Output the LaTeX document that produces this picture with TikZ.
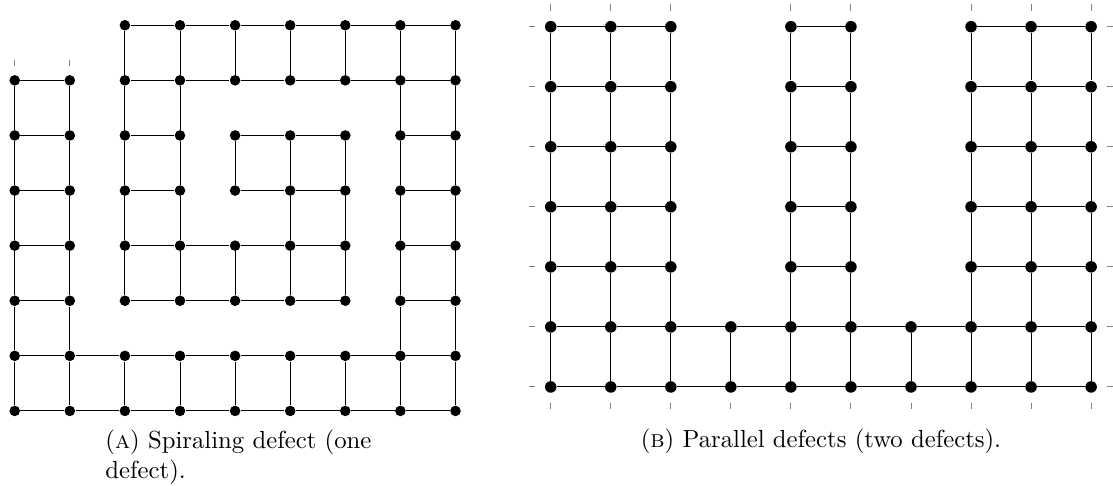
\documentclass[tikz,border=0pt]{standalone}
\usepackage{amsmath}
\usepackage{amssymb}

\tikzset{
  site/.style={circle, fill=black, inner sep=0pt, minimum size=4.4pt},
  stub/.style={gray, line width=0.4pt},
  caption/.style={inner sep=0pt, font=\fontsize{10.3}{12.4}\selectfont},
}

\begin{document}
\begin{tikzpicture}
    \useasboundingbox (0,0) rectangle (463.8pt,202.5pt);

    % (a) spiraling defect
    \begin{scope}[shift={(6.13pt,31.25pt)}, x=22.96pt, y=22.96pt]
        \foreach \c in {0,...,8}
            \foreach \r in {0,...,6}
                \node[site] (s-\c-\r) at (\c,\r) {};
        \foreach \c in {2,...,8}
            \node[site] (s-\c-7) at (\c,7) {};

        \foreach \r/\a/\b in {0/0/8, 1/0/8, 2/0/1, 3/0/1, 4/0/1, 5/0/1, 6/0/1,
                2/2/6, 3/2/6, 4/2/3, 5/2/3, 4/4/6, 5/4/6,
                2/7/8, 3/7/8, 4/7/8, 5/7/8, 6/2/8, 7/2/8} {
            \pgfmathtruncatemacro\lst{\b-1}
            \foreach \c in {\a,...,\lst} {
                \pgfmathtruncatemacro\nb{\c+1}
                \draw (s-\c-\r) -- (s-\nb-\r);
            }
        }

        \foreach \c/\a/\b in {0/0/6, 1/0/6, 7/0/7, 8/0/7, 2/0/1, 3/0/1, 4/0/1, 5/0/1, 6/0/1,
                2/2/7, 3/2/7, 4/2/3, 4/4/5, 4/6/7, 5/2/5, 6/2/5, 5/6/7, 6/6/7} {
            \pgfmathtruncatemacro\lst{\b-1}
            \foreach \r in {\a,...,\lst} {
                \pgfmathtruncatemacro\nb{\r+1}
                \draw (s-\c-\r) -- (s-\c-\nb);
            }
        }

        \foreach \c in {0,1}
            \draw[stub] (s-\c-6) ++(0,0.26) -- ++(0,0.11);
    \end{scope}

    % (b) parallel defects
    \begin{scope}[shift={(229.5pt,41.25pt)}, x=25.02pt, y=25.02pt,
                  site/.append style={minimum size=4.8pt}]
        \foreach \c in {0,...,9}
            \foreach \r in {0,1}
                \node[site] (p-\c-\r) at (\c,\r) {};
        \foreach \c in {0,1,2,4,5,7,8,9}
            \foreach \r in {2,...,6}
                \node[site] (p-\c-\r) at (\c,\r) {};

        \foreach \r/\a/\b in {0/0/9, 1/0/9, 2/0/2, 3/0/2, 4/0/2, 5/0/2, 6/0/2,
                2/4/5, 3/4/5, 4/4/5, 5/4/5, 6/4/5,
                2/7/9, 3/7/9, 4/7/9, 5/7/9, 6/7/9} {
            \pgfmathtruncatemacro\lst{\b-1}
            \foreach \c in {\a,...,\lst} {
                \pgfmathtruncatemacro\nb{\c+1}
                \draw (p-\c-\r) -- (p-\nb-\r);
            }
        }

        \foreach \c/\a/\b in {0/0/6, 1/0/6, 2/0/6, 3/0/1, 4/0/6, 5/0/6, 6/0/1, 7/0/6, 8/0/6, 9/0/6} {
            \pgfmathtruncatemacro\lst{\b-1}
            \foreach \r in {\a,...,\lst} {
                \pgfmathtruncatemacro\nb{\r+1}
                \draw (p-\c-\r) -- (p-\c-\nb);
            }
        }

        \foreach \c in {0,1,2,4,5,7,8,9}
            \draw[stub] (p-\c-6) ++(0,0.26) -- ++(0,0.11);
        \foreach \c in {0,...,9}
            \draw[stub] (p-\c-0) ++(0,-0.26) -- ++(0,-0.11);
        \foreach \r in {0,...,6} {
            \draw[stub] (p-0-\r) ++(-0.26,0) -- ++(-0.11,0);
            \draw[stub] (p-9-\r) ++(0.26,0) -- ++(0.11,0);
        }
    \end{scope}

    \node[caption, anchor=north west, text width=108.75pt, align=left] (capa) at (43.75pt,23.6pt)
        {\makebox[\linewidth][s]{(\textsc{a}) Spiraling defect (one}\\defect).};
    \node[caption, anchor=base] (capb) at (342.1pt,15.83pt)
        {(\textsc{b}) Parallel defects (two defects).};
\end{tikzpicture}
\end{document}
